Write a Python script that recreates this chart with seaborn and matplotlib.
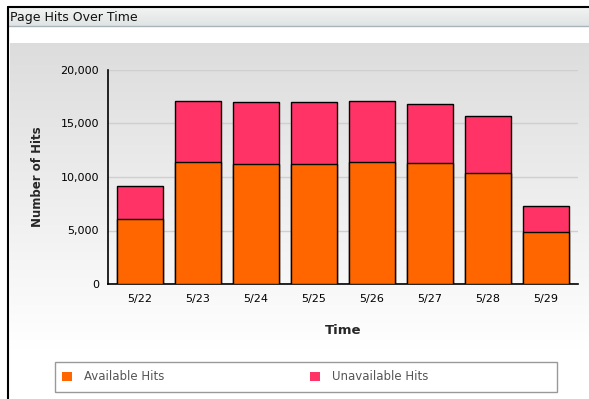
import numpy as np
import pandas as pd
import matplotlib
matplotlib.use('Agg')
import matplotlib.pyplot as plt
import seaborn as sns
from matplotlib.patches import Rectangle, Patch
from matplotlib.lines import Line2D

days = ['5/22', '5/23', '5/24', '5/25', '5/26', '5/27', '5/28', '5/29']
available_hits = [6100, 11400, 11250, 11250, 11400, 11300, 10400, 4900]
unavailable_hits = [3050, 5700, 5750, 5750, 5700, 5500, 5300, 2400]
series_names = ['Available Hits', 'Unavailable Hits']
series_colors = ['#ff6600', '#ff3366']

df = pd.DataFrame({'day': days, 'available': available_hits, 'unavailable': unavailable_hits})
df['total'] = df['available'] + df['unavailable']

sns.set_style('white')
plt.rcParams['font.family'] = ['DejaVu Sans']

W, H = 589, 399
fig = plt.figure(figsize=(W / 100, H / 100), dpi=100)
fig.patch.set_facecolor('white')

# gray gradient panel behind the chart
bg = fig.add_axes([10 / W, 1 - 350 / H, 579 / W, 307 / H], zorder=0)
grad = np.linspace(0.865, 1.0, 256).reshape(-1, 1)
bg.imshow(np.dstack([grad, grad, grad]), aspect='auto', extent=[0, 1, 0, 1], origin='upper')
bg.axis('off')

# title bar and frame
tb = fig.add_axes([8 / W, 1 - 26 / H, 581 / W, 19 / H], zorder=1)
tgrad = np.linspace(0.96, 0.89, 64).reshape(-1, 1)
tb.imshow(np.dstack([tgrad * 0.99, tgrad, tgrad]), aspect='auto', extent=[0, 1, 0, 1], origin='upper')
tb.axis('off')
fig.add_artist(Line2D([8 / W, 1], [1 - 26 / H, 1 - 26 / H], transform=fig.transFigure,
                      color='#a9b4b8', lw=1, zorder=2))
fig.add_artist(Line2D([8 / W, 1], [1 - 7 / H, 1 - 7 / H], transform=fig.transFigure,
                      color='black', lw=1.5, zorder=2))
fig.add_artist(Line2D([8 / W, 8 / W], [0, 1 - 7 / H], transform=fig.transFigure,
                      color='black', lw=1.5, zorder=2))
fig.text(10 / W, 1 - 17 / H, 'Page Hits Over Time', fontsize=9, va='center', ha='left',
         color='#111111', zorder=3)

ax = fig.add_axes([108 / W, 1 - 284 / H, 470 / W, 214 / H], zorder=2)
ax.patch.set_alpha(0)

sns.barplot(data=df, x='day', y='total', color=series_colors[1], edgecolor='black',
            linewidth=1, width=0.8, saturation=1, ax=ax, zorder=3)
sns.barplot(data=df, x='day', y='available', color=series_colors[0], edgecolor='black',
            linewidth=1, width=0.8, saturation=1, ax=ax, zorder=4)

ax.set_ylim(0, 20000)
ax.set_xlim(-0.55, 7.55)
ax.set_yticks([0, 5000, 10000, 15000, 20000])
ax.set_yticklabels(['0', '5,000', '10,000', '15,000', '20,000'])
ax.yaxis.grid(True, color='#cfcfcf', lw=1)
ax.set_axisbelow(True)
for s in ['top', 'right']:
    ax.spines[s].set_visible(False)
for s in ['left', 'bottom']:
    ax.spines[s].set_color('black')
    ax.spines[s].set_linewidth(1.2)
ax.tick_params(axis='both', which='major', direction='inout', length=3, width=2.5,
               colors='black', labelsize=8, pad=5)
ax.tick_params(axis='x', pad=6)
ax.set_xlabel('Time', fontsize=9.5, fontweight='bold', labelpad=14)
ax.set_ylabel('Number of Hits', fontsize=8.5, fontweight='bold', labelpad=12)

# legend box with two entries
fig.add_artist(Rectangle((55 / W, 1 - 392 / H), 502 / W, 30 / H, transform=fig.transFigure,
                         facecolor='white', edgecolor='#999999', lw=1, zorder=2))
for name, color, x0 in zip(series_names, series_colors, [51, 299]):
    leg = fig.legend([Patch(facecolor=color, edgecolor='none')], [name], loc='center left',
                     bbox_to_anchor=(x0 / W, 1 - 377 / H), frameon=False, fontsize=8.5,
                     handlelength=0.9, handleheight=0.9, handletextpad=1.0)
    leg.set_zorder(3)
    for t in leg.get_texts():
        t.set_color('#555555')

fig.savefig('out.png', dpi=100)
